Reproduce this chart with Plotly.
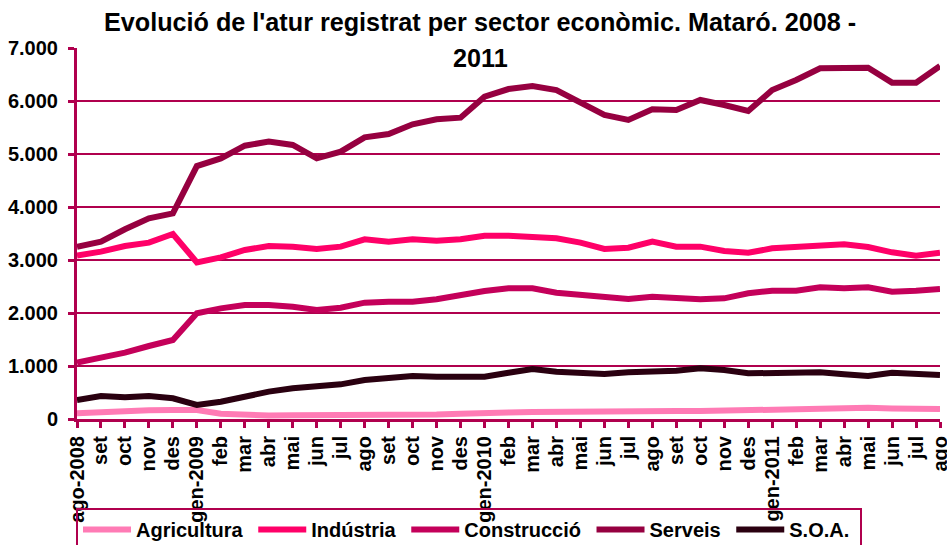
import plotly.graph_objects as go

months = ["ago-2008", "set", "oct", "nov", "des", "gen-2009", "feb", "mar", "abr", "mai",
          "jun", "jul", "ago", "set", "oct", "nov", "des", "gen-2010", "feb", "mar",
          "abr", "mai", "jun", "jul", "ago", "set", "oct", "nov", "des", "gen-2011",
          "feb", "mar", "abr", "mai", "jun", "jul", "ago"]

agricultura = [107, 130, 150, 165, 170, 170, 100, 70, 65, 70, 70, 65, 70, 75, 80, 85, 100, 120,
               125, 130, 135, 140, 160, 155, 155, 150, 150, 160, 175, 170, 180, 195, 205, 210,
               200, 195, 190]
industria = [3082, 3157, 3264, 3327, 3490, 2956, 3050, 3189, 3264, 3252, 3208, 3252, 3390, 3346,
             3390, 3365, 3390, 3459, 3459, 3440, 3409, 3327, 3208, 3233, 3346, 3252, 3252, 3170,
             3138, 3220, 3252, 3283, 3296, 3245, 3145, 3082, 3138]
construccio = [1063, 1145, 1252, 1377, 1491, 1994, 2088, 2151, 2151, 2119, 2057, 2100, 2195, 2214,
               2214, 2258, 2340, 2415, 2465, 2465, 2384, 2340, 2321, 2264, 2308, 2277, 2258, 2277,
               2371, 2421, 2421, 2484, 2465, 2484, 2403, 2421, 2453]
serveis = [3251, 3345, 3579, 3786, 3880, 4773, 4918, 5157, 5233, 5170, 4918, 5044, 5314, 5377,
           5560, 5654, 5685, 6082, 6226, 6283, 6207, 5968, 5736, 5642, 5843, 5830, 6019, 5925,
           5811, 6207, 6396, 6616, 6616, 6629, 6346, 6346, 6660]
soa = [358, 434, 409, 434, 390, 264, 327, 434, 516, 579, 623, 654, 736, 780, 811, 799, 786, 799,
       874, 943, 893, 874, 849, 880, 893, 912, 956, 925, 862, 862, 874, 880, 843, 811, 874, 843, 830]

y_ticks = [0, 1000, 2000, 3000, 4000, 5000, 6000, 7000]
y_labels = ["0", "1.000", "2.000", "3.000", "4.000", "5.000", "6.000", "7.000"]

title_line1 = "Evolució de l'atur registrat per sector econòmic. Mataró. 2008 -"
title_line2 = "2011"

series_names = ["Agricultura", "Indústria", "Construcció", "Serveis", "S.O.A."]
series_values = [agricultura, industria, construccio, serveis, soa]
series_colors = ["#FF7BB5", "#FF0068", "#C4005A", "#960040", "#2A0010"]

idx = list(range(len(months)))

fig = go.Figure()
for name, vals, col in zip(series_names, series_values, series_colors):
    fig.add_trace(go.Scatter(x=idx, y=vals, mode="lines", name=name + "\u00a0",
                             line=dict(color=col, width=6)))

axis_col = "#B0004E"
font_main = "Liberation Sans, Arial, sans-serif"

# plot area spans pixel rows 48..419
def py(pix):
    return (419 - pix) / 371

fig.update_layout(
    width=947, height=545,
    margin=dict(l=77, r=7, t=48, b=126, autoexpand=False),
    paper_bgcolor="white", plot_bgcolor="white",
    font=dict(family=font_main, color="black"),
    showlegend=True,
    legend=dict(orientation="h", xref="container", yref="container",
                x=76 / 947, y=1 - 508 / 545, xanchor="left", yanchor="top",
                bordercolor=axis_col, borderwidth=2, bgcolor="rgba(255,255,255,0)",
                font=dict(size=20, family=font_main, color="black", weight="bold"),
                itemwidth=48, tracegroupgap=0),
    annotations=[
        dict(text="<b>" + title_line1 + "</b>", xref="paper", yref="paper",
             x=0.4675, y=py(22), xanchor="center", yanchor="middle", showarrow=False,
             font=dict(size=25.2, family=font_main)),
        dict(text="<b>" + title_line2 + "</b>", xref="paper", yref="paper",
             x=0.4675, y=py(58), xanchor="center", yanchor="middle", showarrow=False,
             font=dict(size=25.2, family=font_main)),
    ],
)

fig.update_xaxes(
    range=[0, 36], tickmode="array", tickvals=idx, ticktext=months, tickangle=-90,
    showgrid=False, zeroline=False, showline=True, linecolor=axis_col, linewidth=3,
    ticks="outside", ticklen=6, tickwidth=3, tickcolor=axis_col, automargin=False,
    ticklabeloverflow="allow",
    tickfont=dict(size=20, family=font_main, color="black", weight="bold"),
)
fig.update_yaxes(
    range=[0, 7000], tickmode="array", tickvals=y_ticks, ticktext=y_labels,
    showgrid=True, gridcolor=axis_col, gridwidth=2, zeroline=False,
    showline=True, linecolor=axis_col, linewidth=3, automargin=False,
    ticks="outside", ticklen=6, tickwidth=3, tickcolor=axis_col, ticklabelstandoff=6,
    ticklabeloverflow="allow",
    tickfont=dict(size=20, family=font_main, color="black", weight="bold"),
)

fig.write_html("out.html", config={"displayModeBar": False},
               post_script="document.body.style.margin='0';document.body.style.overflow='hidden';")
